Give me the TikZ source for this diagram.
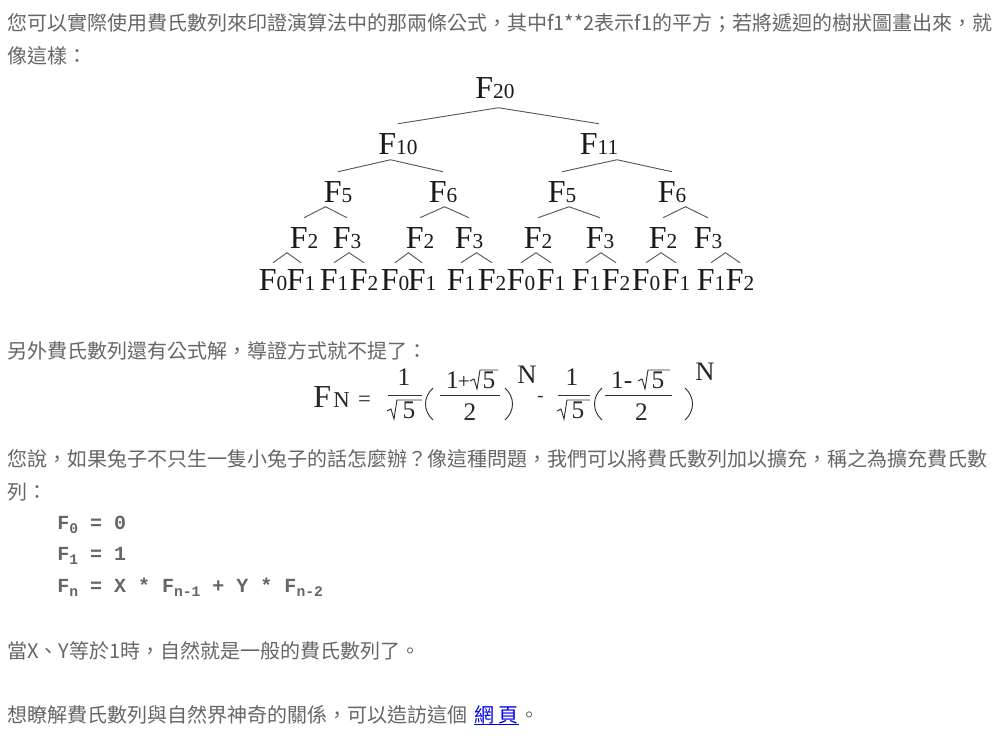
\documentclass[tikz,border=0pt]{standalone}
\usepackage{fontspec}
\usepackage{xcolor}
\usepackage{tikz}
\usetikzlibrary{calc}
\usetikzlibrary{positioning}
\setmainfont{Liberation Serif}
\newfontfamily\cjkfont{Noto Sans CJK TC}
\newfontfamily\codefont{Liberation Mono}
\definecolor{pagegray}{RGB}{102,102,102}
\definecolor{linkblue}{RGB}{0,0,238}
\newcommand{\fib}[1]{{\fontsize{24}{24}\selectfont F}{\fontsize{16}{16}\selectfont #1}}
\newcommand{\csub}[1]{\raisebox{-3pt}{\fontsize{11}{11}\selectfont #1}}
\tikzset{fib/.style={inner sep=0pt, anchor=base, text height=22.5pt, text depth=0pt, text=black!90}}
\tikzset{leaf/.style={fib, text height=20.25pt}}
\tikzset{branch/.style={draw=black!65, line width=0.7pt}}
\tikzset{para/.style={inner sep=0pt, anchor=base west, text=pagegray, font=\cjkfont\fontsize{15}{18}\selectfont}}
\tikzset{code/.style={inner sep=0pt, anchor=base west, text=pagegray, font=\codefont\bfseries\fontsize{15}{18}\selectfont}}
\tikzset{eq/.style={inner sep=0pt, anchor=base, text=black!85, font=\fontsize{19}{19}\selectfont}}
\tikzset{eqline/.style={draw=black!80, line width=0.7pt}}

\begin{document}
\begin{tikzpicture}[x=0.75pt, y=-0.75pt]
{
\useasboundingbox (0,0) rectangle (999,744);
\fill[white] (0,0) rectangle (999,744);

% text of the page
\node[para] (intro) at (7,30) {您可以實際使用費氏數列來印證演算法中的那兩條公式，其中f1**2表示f1的平方；若將遞迴的樹狀圖畫出來，就};
\node[para] (introb) at (7,63) {像這樣：};
\node[para] (closed) at (7,358) {另外費氏數列還有公式解，導證方式就不提了：};
\node[para] (ask) at (7,466) {您說，如果兔子不只生一隻小兔子的話怎麼辦？像這種問題，我們可以將費氏數列加以擴充，稱之為擴充費氏數};
\node[para] (askb) at (7,499) {列：};
\node[code] (fzero) at (57,529) {F\csub{0} = 0};
\node[code] (fone) at (57,560) {F\csub{1} = 1};
\node[code] (fn) at (57,592) {F\csub{n} = X * F\csub{n-1} + Y * F\csub{n-2}};
\node[para] (note) at (7,658) {當X、Y等於1時，自然就是一般的費氏數列了。};
\node[para] (visit) at (7,722) {想瞭解費氏數列與自然界神奇的關係，可以造訪這個};
\node[para, text=linkblue, base right=5pt of visit] (link) {網 頁};
\node[para, base right=0pt of link] (stop) {。};
\draw[linkblue, line width=0.75pt] ([yshift=-2pt]link.base west) -- ([yshift=-2pt]link.base east);

% recursion tree
\node[fib] (f20) at (495,98) {\fib{20}};
\node[fib] (f10) at (398,154) {\fib{10}};
\node[fib] (f11) at (599,154) {\fib{11}};
\node[fib] (f5a) at (338,202) {\fib{5}};
\node[fib] (f6a) at (443,202) {\fib{6}};
\node[fib] (f5b) at (562,202) {\fib{5}};
\node[fib] (f6b) at (672,202) {\fib{6}};
\node[fib] (f2a) at (304,248) {\fib{2}};
\node[fib] (f3a) at (347,248) {\fib{3}};
\node[fib] (f2b) at (420,248) {\fib{2}};
\node[fib] (f3b) at (469,248) {\fib{3}};
\node[fib] (f2c) at (538,248) {\fib{2}};
\node[fib] (f3c) at (600,248) {\fib{3}};
\node[fib] (f2d) at (663,248) {\fib{2}};
\node[fib] (f3d) at (708,248) {\fib{3}};
\foreach \x/\d [count=\i] in {273/0,301/1,334/1,364/2,395/0,422/1,461/1,492/2,521/0,551/1,586/1,616/2,646/0,676/1,711/1,740/2}
  \node[leaf] (l\i) at (\x,290) {\fib{\d}};
\foreach \p/\a/\b/\h in {f20/f10/f11/16, f10/f5a/f6a/12, f11/f5b/f6b/12,
    f5a/f2a/f3a/11, f6a/f2b/f3b/11, f5b/f2c/f3c/11, f6b/f2d/f3d/11,
    f2a/l1/l2/10, f3a/l3/l4/10, f2b/l5/l6/10, f3b/l7/l8/10,
    f2c/l9/l10/10, f3c/l11/l12/10, f2d/l13/l14/10, f3d/l15/l16/10}
  \draw[branch] (\a.north) -- ($(\a.north)!.5!(\b.north)+(0,-\h)$) coordinate (\p-j) -- (\b.north);

% closed formula
\node[eq, anchor=base west, font=\fontsize{24}{24}\selectfont] (eqf) at (313,407) {F};
\node[eq, anchor=base west, font=\fontsize{17}{17}\selectfont] (eqn) at (333,407) {N};
\node[eq, font=\fontsize{17}{17}\selectfont] (eqeq) at (364.5,406) {=};
\node[eq] (numa) at (404,385) {1};
\node[eq] (dena) at (409,418) {5};
\node[eq] (numb) at (452.5,388) {1};
\node[eq, font=\fontsize{16}{16}\selectfont] (plusb) at (464,388) {+};
\node[eq] (radb) at (489,388) {5};
\node[eq] (twob) at (470,420) {2};
\node[eq, anchor=base west, font=\fontsize{20}{20}\selectfont] (supb) at (517,383) {N};
\node[eq, font=\fontsize{14}{14}\selectfont] (minus) at (540.5,401) {-};
\node[eq] (numc) at (572,385) {1};
\node[eq] (denc) at (578,418) {5};
\node[eq] (numd) at (617.5,388) {1};
\node[eq] (dashd) at (628,388) {-};
\node[eq] (radd) at (658,388) {5};
\node[eq] (twod) at (641.5,420) {2};
\node[eq, anchor=base west, font=\fontsize{20}{20}\selectfont] (supd) at (695,380) {N};
\foreach \a/\b in {388/422, 440/500, 558/590, 605/672}
  \draw[eqline] (\a,395) -- (\b,395);
\foreach \x/\y/\w in {387/419/25, 470/389/18, 557/419/23, 638/389/22}
  \draw[eqline] (\x,\y-8) -- ++(4,-2) -- ++(3,10) -- ++(3,-19) -- ++(\w,0);
\foreach \x/\s in {433/-1, 505/1, 602/-1, 685/1}
  \draw[eqline] (\x,388) .. controls (\x+10*\s,397) and (\x+10*\s,411) .. (\x,420);
}
\end{tikzpicture}
\end{document}
